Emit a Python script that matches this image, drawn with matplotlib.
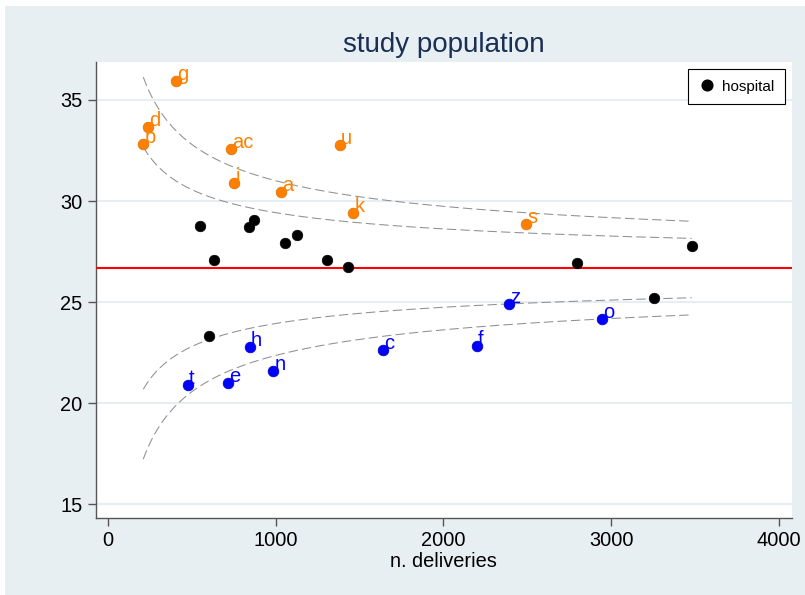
import numpy as np
import matplotlib
matplotlib.use("Agg")
import matplotlib.pyplot as plt
from matplotlib.patches import Rectangle
from matplotlib.lines import Line2D

plt.rcParams['font.family'] = ['Liberation Sans', 'DejaVu Sans']

# --- data ---
high_labels = ["g", "d", "b", "ac", "u", "i", "a", "k", "s"]
high_n = [405, 238, 209, 733, 1383, 751, 1031, 1461, 2492]
high_rate = [35.92, 33.65, 32.80, 32.56, 32.76, 30.88, 30.43, 29.40, 28.85]

low_labels = ["t", "e", "h", "n", "c", "f", "z", "o"]
low_n = [477, 713, 846, 985, 1641, 2200, 2390, 2947]
low_rate = [20.90, 20.98, 22.79, 21.60, 22.63, 22.83, 24.89, 24.16]

mid_n = [548, 632, 841, 870, 1055, 1127, 1306, 1431, 2796, 3481, 600, 3255]
mid_rate = [28.75, 27.08, 28.70, 29.05, 27.91, 28.31, 27.08, 26.73, 26.93, 27.77, 23.34, 25.20]

mean_rate = 26.68
z_inner = 1.96
z_outer = 3.09

x_ticks = [0, 1000, 2000, 3000, 4000]
y_ticks = [15, 20, 25, 30, 35]

ORANGE = "#FF8000"
BLUE = "#0000FF"
PANEL = "#E8EFF2"
GRID = "#E6EEF2"

fig = plt.figure(figsize=(8.05, 5.95), dpi=100, facecolor="white")
fig.patches.append(Rectangle((5 / 805, 0.5 / 595), 800 / 805, 589 / 595,
                             transform=fig.transFigure, facecolor=PANEL,
                             edgecolor="none", zorder=-10))

ax = fig.add_axes([95.5 / 805, 1 - 518 / 595, (792 - 95.5) / 805, (518 - 62) / 595])
ax.set_facecolor("white")

ax.set_xlim(-76, 4079)
ax.set_ylim(14.31, 36.88)

# funnel limits
all_n = high_n + low_n + mid_n
nn = np.linspace(min(all_n), max(all_n), 400)
p = mean_rate / 100.0
se = np.sqrt(p * (1 - p) / nn) * 100
for z in (z_inner, z_outer):
    for sgn in (1, -1):
        ax.plot(nn, mean_rate + sgn * z * se, color="#8F8F8F", lw=0.75,
                dashes=(9, 4), zorder=2)

ax.axhline(mean_rate, color="#FF0000", lw=1.5, zorder=3)

ms = 7.7
ax.plot(mid_n, mid_rate, "o", color="black", ms=ms, mew=0.4, zorder=4)
ax.plot(high_n, high_rate, "o", color=ORANGE, mec="#E07000", ms=ms, mew=0.5, zorder=4)
ax.plot(low_n, low_rate, "o", color=BLUE, mec="#0000C0", ms=ms, mew=0.5, zorder=4)

for lab, x, y in zip(high_labels, high_n, high_rate):
    ax.annotate(lab, (x, y), xytext=(1, 1), textcoords="offset pixels",
                ha="left", va="baseline", color=ORANGE, fontsize=14.5, zorder=5)
for lab, x, y in zip(low_labels, low_n, low_rate):
    ax.annotate(lab, (x, y), xytext=(1, 1), textcoords="offset pixels",
                ha="left", va="baseline", color=BLUE, fontsize=14.5, zorder=5)

ax.set_xticks(x_ticks)
ax.set_yticks(y_ticks)
ax.tick_params(axis="both", direction="out", length=6, width=1, color="#555555",
               labelsize=14.4, pad=3.5)
for s in ("top", "right"):
    ax.spines[s].set_visible(False)
for s in ("left", "bottom"):
    ax.spines[s].set_color("#555555")
    ax.spines[s].set_linewidth(1.0)
ax.grid(axis="y", color=GRID, lw=1.5, zorder=0)
ax.set_axisbelow(True)

ax.set_xlabel("n. deliveries", fontsize=14.4, labelpad=1)
fig.text(444 / 805, 1 - 45 / 595, "study population", ha="center", va="center",
         fontsize=20, color="#1A2F55")

handle = Line2D([], [], marker="o", color="black", ls="none", ms=ms)
leg = ax.legend([handle], ["hospital"], loc="upper right", fontsize=11,
                frameon=True, fancybox=False, edgecolor="black", framealpha=1,
                handlelength=1.1, handletextpad=0.45, borderpad=0.7,
                borderaxespad=0.45)
leg.get_frame().set_linewidth(0.8)

fig.savefig("out.png", dpi=100, facecolor="white")
